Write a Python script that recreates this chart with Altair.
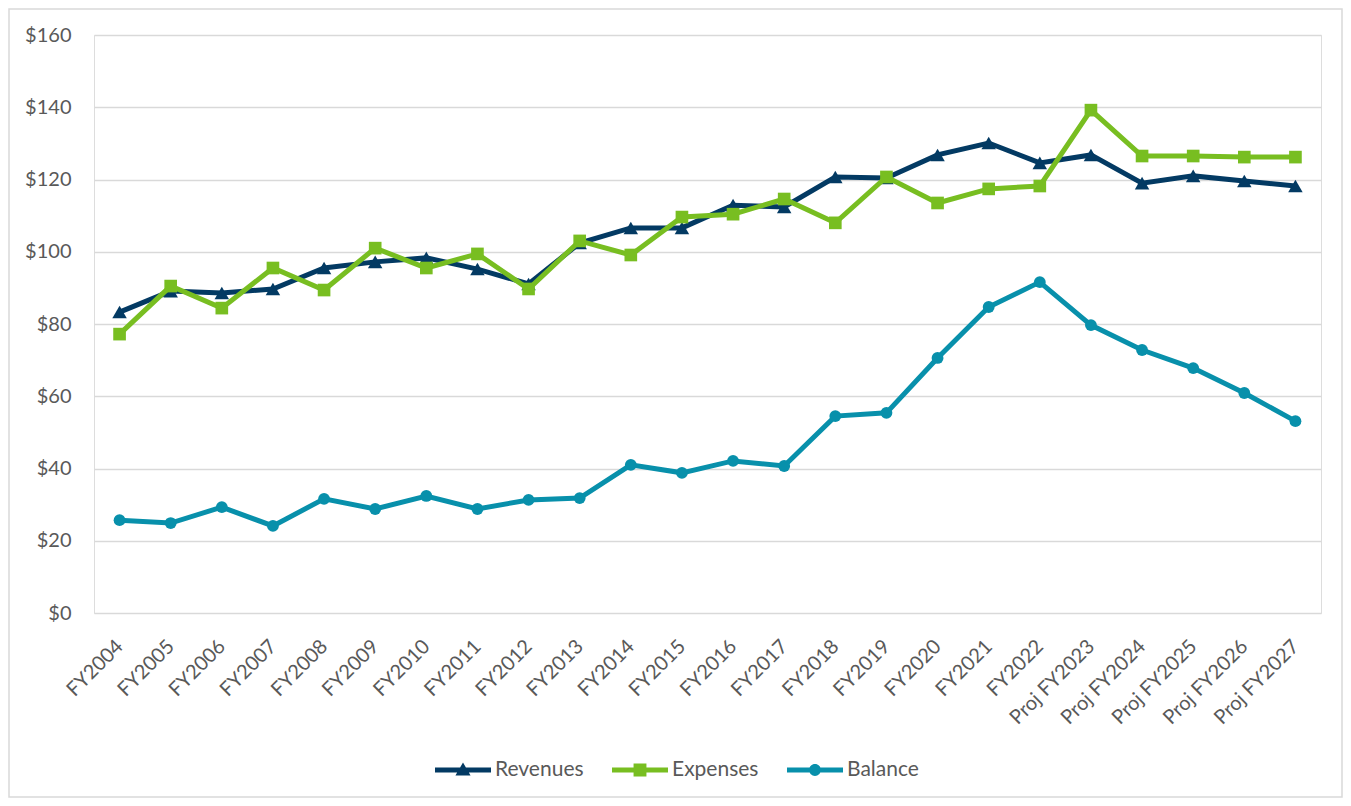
import altair as alt
import pandas as pd

categories = ["FY2004", "FY2005", "FY2006", "FY2007", "FY2008", "FY2009", "FY2010",
              "FY2011", "FY2012", "FY2013", "FY2014", "FY2015", "FY2016", "FY2017",
              "FY2018", "FY2019", "FY2020", "FY2021", "FY2022", "Proj FY2023",
              "Proj FY2024", "Proj FY2025", "Proj FY2026", "Proj FY2027"]
revenues = [83.3, 89.1, 88.6, 89.7, 95.5, 97.2, 98.3, 95.2, 91.1, 102.4, 106.6, 106.6,
            112.9, 112.4, 120.7, 120.4, 126.8, 130.1, 124.6, 126.8, 119.0, 121.0, 119.6, 118.2]
expenses = [77.2, 90.5, 84.4, 95.5, 89.4, 101.0, 95.5, 99.4, 89.7, 103.0, 99.1, 109.6,
            110.4, 114.6, 108.0, 120.7, 113.5, 117.4, 118.2, 139.2, 126.5, 126.5, 126.2, 126.2]
balance = [25.7, 24.9, 29.3, 24.1, 31.6, 28.8, 32.4, 28.8, 31.3, 31.8, 41.0, 38.8,
           42.1, 40.7, 54.5, 55.4, 70.6, 84.7, 91.6, 79.7, 72.8, 67.8, 60.9, 53.1]
series = ["Revenues", "Expenses", "Balance"]
colors = ["#033A63", "#78BE21", "#0890AB"]
shapes = ["triangle-up", "square", "circle"]
sizes = [210, 160, 140]

# legend symbols: a thick line with the marker in the middle
legend_paths = [
    "M-1,-0.09 L1,-0.09 L1,0.09 L-1,0.09 Z M0,-0.27 L0.27,0.2 L-0.27,0.2 Z",
    "M-1,-0.09 L1,-0.09 L1,0.09 L-1,0.09 Z M-0.23,-0.23 L0.23,-0.23 L0.23,0.23 L-0.23,0.23 Z",
    "M-1,-0.09 L1,-0.09 L1,0.09 L-1,0.09 Z M-0.21,0 A0.21,0.21 0 1,1 0.21,0 A0.21,0.21 0 1,1 -0.21,0 Z",
]

rows = []
for name, vals in zip(series, [revenues, expenses, balance]):
    for c, v in zip(categories, vals):
        rows.append({"Year": c, "Value": v, "Series": name})
df = pd.DataFrame(rows)

W, H = 1227, 578
FONT = "Lato"
GREY = "#595959"

x_enc = alt.X("Year:N", sort=categories, title=None,
              scale=alt.Scale(type="point", padding=0.5),
              axis=alt.Axis(labelAngle=-45, labelAlign="right", labelBaseline="middle",
                            labelPadding=30, ticks=False, domain=False, grid=False,
                            labelFont=FONT, labelFontSize=20, labelColor=GREY))
y_enc = alt.Y("Value:Q", title=None,
              scale=alt.Scale(domain=[0, 160], nice=False),
              axis=alt.Axis(values=list(range(0, 161, 20)), labelExpr="'$' + datum.value",
                            ticks=False, domain=False, grid=True, gridColor="#D9D9D9",
                            gridWidth=1.5, labelPadding=23, labelFont=FONT,
                            labelFontSize=20, labelColor=GREY))

base = alt.Chart(df)

layers = []
for name, col, shp, sz in zip(series, colors, shapes, sizes):
    layers.append(
        base.transform_filter(alt.datum.Series == name)
        .mark_line(color=col, strokeWidth=5,
                   point=alt.OverlayMarkDef(shape=shp, size=sz, filled=True, color=col, opacity=1))
        .encode(x=x_enc, y=y_enc)
    )

leg = alt.Legend(title=None, orient="none", direction="horizontal",
                 legendX=341, legendY=707,
                 symbolSize=3136, symbolStrokeWidth=0, symbolOpacity=1,
                 labelFont=FONT, labelFontSize=21, labelColor=GREY,
                 labelOffset=4, columnPadding=28)

legend_layer = (
    base.mark_point(filled=True, opacity=0, size=0)
    .encode(
        x=x_enc, y=y_enc,
        color=alt.Color("Series:N", scale=alt.Scale(domain=series, range=colors), legend=leg),
        shape=alt.Shape("Series:N", scale=alt.Scale(domain=series, range=legend_paths),
                        legend=leg),
    )
)

frame = alt.Chart(pd.DataFrame({"a": [0]})).mark_rect(
    fill=None, stroke="#D9D9D9", strokeWidth=1.5
).encode(x=alt.value(-85), x2=alt.value(W + 21), y=alt.value(-26), y2=alt.value(H + 184))

chart = alt.layer(frame, *layers, legend_layer).properties(
    width=W, height=H,
    autosize=alt.AutoSizeParams(type="none"),
    padding={"left": 86, "top": 27, "right": 22, "bottom": 185},
).configure_view(stroke=None).configure(background="white")

chart.save("out.html", embed_options={"renderer": "svg", "actions": False})
